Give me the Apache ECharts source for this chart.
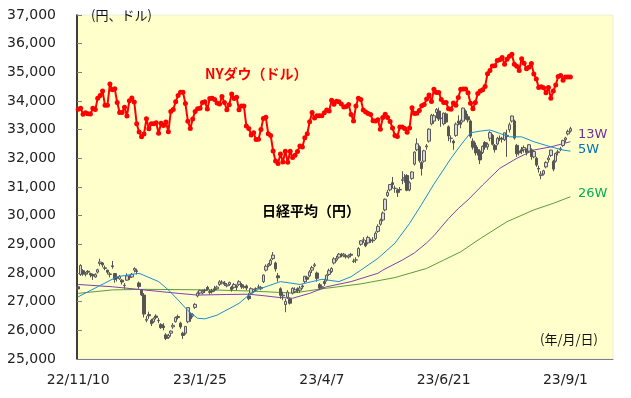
<!DOCTYPE html>
<html>
<head>
<meta charset="utf-8">
<script src="https://cdn.jsdelivr.net/npm/echarts@6/dist/echarts.min.js"></script>
<style>
  html, body { margin: 0; padding: 0; background: #fff; }
  #chart { width: 631px; height: 398px; }
</style>
</head>
<body>
<div id="chart"></div>
<script>
// x axis: Tokyo trading days, one tick every 50 sessions
const dayCount = 220
const tickStep = 50
const tickLabels = ['22/11/10', '23/1/25', '23/4/7', '23/6/21', '23/9/1']

// Nikkei 225 daily prices (yen)
const nkOpen = [
  27520, 27950, 28080, 27950, 28060, 27980, 27950, 27860, 28030, 28330,
  28350, 28180, 28100, 27950, 28250, 27980, 27840, 27800, 27750, 27560,
  27750, 27880, 27860, 28100, 28080, 27650, 27400, 27230, 26350, 26550,
  26350, 26300, 26500, 26350, 26200, 26150, 25840, 25750, 25900, 26120,
  26300, 26480, 26250, 25900, 25900, 26300, 26550, 26500, 26800, 27200,
  27300, 27300, 27400, 27500, 27350, 27380, 27450, 27450, 27600, 27650,
  27650, 27550, 27600, 27500, 27500, 27550, 27600, 27600, 27500, 27550,
  27200, 27300, 27350, 27450, 27500, 27450, 27700, 28100, 28250, 28300,
  28500, 28350, 27900, 27450, 27200, 26900, 27150, 27100, 27300, 27350,
  27450, 27400, 27550, 27700, 27850, 27900, 28100, 28250, 28000, 27600,
  27500, 27700, 27750, 27950, 28050, 28350, 28450, 28550, 28650, 28600,
  28600, 28550, 28650, 28400, 28450, 28600, 29000, 29150, 29050, 29050,
  29150, 29150, 29200, 29450, 29700, 29850, 30200, 30700, 30900, 31150,
  30950, 30900, 30900, 31250, 31300, 31400, 30900, 31300, 31800, 32300,
  32400, 31850, 31900, 32400, 32600, 33200, 33300, 33600, 33650, 33400,
  33200, 33550, 33100, 32700, 32600, 32800, 33300, 33250, 33300, 33650,
  33450, 33300, 32600, 32450, 32300, 32250, 32200, 32550, 32400, 32700,
  32800, 32450, 32500, 32700, 32700, 32650, 32800, 33000, 33300, 33300,
  32450, 32250, 32300, 32300, 32300, 32250, 32300, 32050, 32000, 31650,
  31400, 31450, 31700, 31950, 32100, 31900, 31900, 32200, 32300, 32450,
  32650, 32850, 32950
]
const nkClose = [
  27446, 28263, 27963, 27990, 28028, 27930, 27899, 27944, 28115, 28383,
  28283, 28162, 28027, 27968, 28226, 27777, 27820, 27885, 27686, 27574,
  27901, 27842, 27954, 28156, 28051, 27527, 27237, 26568, 26387, 26507,
  26235, 26405, 26447, 26340, 26093, 26094, 25716, 25820, 25973, 26175,
  26446, 26449, 26119, 25822, 26138, 26791, 26405, 26553, 26906, 27299,
  27395, 27362, 27382, 27433, 27327, 27346, 27402, 27509, 27693, 27685,
  27606, 27584, 27670, 27427, 27602, 27501, 27696, 27513, 27531, 27473,
  27104, 27453, 27423, 27445, 27516, 27498, 27927, 28237, 28309, 28444,
  28623, 28143, 27832, 27222, 27229, 27010, 27333, 26945, 27466, 27419,
  27385, 27476, 27518, 27883, 27782, 28041, 28188, 28287, 27813, 27472,
  27518, 27633, 27923, 28082, 28156, 28493, 28514, 28658, 28606, 28657,
  28564, 28593, 28620, 28416, 28457, 28856, 29123, 29157, 28949, 29242,
  29122, 29126, 29388, 29626, 29842, 30093, 30573, 30808, 31086, 31086,
  30957, 30801, 30916, 31233, 31328, 30887, 31148, 31524, 32217, 32506,
  31913, 31641, 32265, 32434, 33018, 33502, 33485, 33706, 33370, 33388,
  33575, 33264, 32781, 32698, 32538, 33193, 33234, 33189, 33753, 33422,
  33338, 32773, 32388, 32189, 32203, 31943, 32419, 32391, 32493, 32896,
  32490, 32304, 32700, 32682, 32668, 32891, 32759, 33172, 33476, 32707,
  32159, 32192, 32254, 32377, 32204, 32473, 32059, 32238, 31766, 31626,
  31450, 31565, 31856, 32010, 32287, 31624, 32169, 32226, 32333, 32619,
  32710, 32939, 33036
]
const nkLow = [
  27380, 27900, 27900, 27880, 27950, 27850, 27760, 27830, 27980, 28250,
  28200, 28100, 27950, 27850, 28150, 27660, 27700, 27760, 27600, 27450,
  27730, 27760, 27830, 28020, 27950, 27450, 27200, 26450, 26280, 26400,
  26150, 26250, 26380, 26250, 26050, 26000, 25660, 25700, 25780, 26050,
  26270, 26380, 26050, 25700, 25850, 26250, 26300, 26450, 26750, 27150,
  27250, 27250, 27300, 27380, 27250, 27280, 27350, 27400, 27550, 27600,
  27550, 27500, 27550, 27350, 27450, 27400, 27550, 27450, 27450, 27400,
  27050, 27250, 27300, 27350, 27450, 27400, 27650, 28050, 28200, 28250,
  28450, 28050, 27700, 27100, 27050, 26630, 27100, 26900, 27250, 27300,
  27300, 27300, 27450, 27650, 27700, 27850, 28000, 28200, 27700, 27400,
  27450, 27550, 27700, 27900, 28000, 28300, 28400, 28500, 28550, 28550,
  28500, 28500, 28550, 28350, 28350, 28550, 28950, 29050, 28900, 29000,
  29050, 29050, 29150, 29400, 29650, 29800, 30150, 30650, 30850, 30950,
  30800, 30650, 30800, 31100, 31150, 30850, 30850, 31250, 31750, 32250,
  31850, 31400, 31850, 32300, 32550, 33150, 33200, 33400, 33300, 33100,
  33150, 33200, 32600, 32550, 32300, 32750, 33150, 33050, 33250, 33350,
  33250, 32700, 32300, 32100, 32100, 31800, 32150, 32300, 32300, 32600,
  32450, 32200, 32450, 32600, 32550, 32600, 32050, 32900, 33250, 32650,
  32050, 32100, 32150, 32200, 32100, 32200, 31950, 32000, 31700, 31500,
  31270, 31400, 31650, 31850, 32050, 31550, 31850, 32100, 32250, 32400,
  32550, 32800, 32900
]
const nkHigh = [
  27560, 28305, 28130, 28040, 28100, 28010, 27980, 27990, 28150, 28500,
  28380, 28260, 28110, 28030, 28420, 28000, 27880, 27930, 27790, 27650,
  27990, 27920, 28000, 28200, 28150, 27700, 27430, 27300, 26500, 26650,
  26400, 26450, 26560, 26430, 26250, 26250, 25900, 25880, 26000, 26250,
  26480, 26550, 26300, 25950, 26150, 26810, 26600, 26600, 26950, 27350,
  27420, 27420, 27450, 27550, 27420, 27450, 27550, 27560, 27750, 27750,
  27720, 27650, 27700, 27550, 27650, 27600, 27750, 27650, 27600, 27600,
  27300, 27500, 27450, 27500, 27600, 27550, 27950, 28300, 28350, 28500,
  28730, 28400, 28000, 27500, 27350, 27100, 27400, 27150, 27500, 27500,
  27500, 27550, 27600, 27900, 27900, 28100, 28250, 28350, 28050, 27650,
  27600, 27800, 27950, 28150, 28200, 28550, 28600, 28700, 28700, 28700,
  28650, 28650, 28700, 28500, 28550, 28900, 29150, 29250, 29150, 29300,
  29200, 29250, 29450, 29700, 29900, 30150, 30600, 30900, 31100, 31350,
  31050, 30950, 31000, 31550, 31450, 31450, 31200, 31550, 32250, 32700,
  32450, 31900, 32300, 32500, 33050, 33550, 33550, 33750, 33770, 33500,
  33600, 33600, 33150, 32800, 32650, 33250, 33500, 33350, 33770, 33700,
  33550, 33350, 32700, 32550, 32400, 32300, 32450, 32600, 32550, 32950,
  32850, 32500, 32750, 32800, 32750, 32900, 33000, 33250, 33490, 33350,
  32500, 32400, 32400, 32450, 32350, 32500, 32350, 32300, 32050, 31750,
  31550, 31600, 31900, 32100, 32300, 31950, 32200, 32300, 32400, 32650,
  32750, 33000, 33100
]

// NY Dow close (dollars), aligned to the same sessions
const dow = [
  33715, 33748, 33537, 33593, 33553, 33547, 33746, 33700, 34098, 34194,
  34347, 33850, 33853, 34590, 34395, 34430, 33947, 33597, 33598, 33781,
  33477, 34006, 34108, 33966, 33203, 32920, 32757, 32850, 33377, 33028,
  33204, 33204, 33241, 32876, 33221, 33147, 33270, 32930, 33631, 33704,
  33974, 34190, 34303, 34303, 33911, 33297, 33045, 33376, 33630, 33734,
  33744, 33950, 33978, 33717, 34086, 34093, 34054, 33926, 33891, 34156,
  33950, 33699, 33869, 34246, 34089, 34128, 33697, 33827, 33827, 33129,
  33045, 32817, 32889, 32657, 32662, 33004, 33391, 33432, 32856, 32799,
  32255, 31910, 31820, 32155, 31875, 32247, 31862, 32245, 32030, 32105,
  32238, 32433, 32395, 32718, 32860, 33274, 33601, 33403, 33483, 33486,
  33486, 33587, 33685, 33647, 34030, 33887, 33988, 33977, 33897, 33787,
  33809, 33876, 33531, 33302, 33827, 34098, 34051, 33684, 33619, 33562,
  33531, 33309, 33301, 33349, 33012, 33421, 33536, 33427, 33287, 33056,
  32800, 32765, 33093, 33093, 33043, 32908, 33061, 33763, 33563, 33573,
  33665, 33834, 33877, 34067, 34212, 33979, 34408, 34299, 34299, 34054,
  33952, 33947, 33727, 33714, 33927, 33853, 34122, 34408, 34418, 34418,
  34288, 33922, 33734, 33944, 34262, 34347, 34395, 34509, 34952, 35061,
  35225, 35228, 35411, 35438, 35520, 35282, 35459, 35560, 35630, 35283,
  35216, 35066, 35474, 35315, 35124, 35177, 35308, 34946, 34766, 34475,
  34501, 34464, 34289, 34473, 34100, 34347, 34560, 34852, 34891, 34722,
  34838, 34838, 34838
]

// Nikkei moving averages, [session, yen]
const ma5w = [
  [0, 27170], [8, 27520], [16, 27870], [25, 27990], [33, 27700], [37, 27410],
  [41, 27060], [45, 26690], [49, 26420], [52, 26400], [57, 26530], [66, 26940],
  [70, 27230], [74, 27430], [83, 27700], [91, 27600], [100, 27780], [107, 27700],
  [112, 27870], [116, 28100], [123, 28510], [130, 29040], [136, 29730], [141, 30400],
  [146, 31100], [153, 32000], [157, 32460], [161, 32890], [165, 32950], [169, 32990],
  [173, 32870], [177, 32750], [182, 32750], [187, 32580], [194, 32400], [199, 32290],
  [202, 32250]
]
const ma13w = [
  [0, 27600], [14, 27520], [27, 27410], [41, 27290], [49, 27230], [61, 27250],
  [70, 27260], [77, 27200], [82, 27150], [88, 27120], [95, 27290], [102, 27520],
  [112, 27700], [123, 27990], [125, 28100], [133, 28450], [138, 28700], [143, 29050],
  [146, 29300], [152, 29900], [156, 30250], [160, 30550], [166, 31070], [173, 31650],
  [180, 32000], [187, 32290], [194, 32400], [202, 32580]
]
const ma26w = [
  [0, 27290], [14, 27410], [27, 27430], [55, 27410], [71, 27370], [88, 27300],
  [102, 27470], [116, 27620], [130, 27840], [143, 28160], [150, 28450], [157, 28740],
  [165, 29200], [176, 29790], [187, 30200], [195, 30430], [202, 30660]
]

const days = Array.from({ length: dayCount }, (_, i) => String(i))
const candles = nkClose.map((c, i) => [nkOpen[i], c, nkLow[i], nkHigh[i]])

const numFont = "'DejaVu Sans', Verdana, sans-serif"
const jpFont = "'Noto Sans CJK JP', sans-serif"

const chart = echarts.init(document.getElementById('chart'))

chart.setOption({
  animation: false,
  grid: {
    left: 77, right: 18, top: 15, bottom: 39,
    show: true,
    backgroundColor: '#FFFFCC',
    borderColor: '#E9EFD8',
    borderWidth: 1
  },
  xAxis: {
    type: 'category',
    data: days,
    boundaryGap: true,
    axisLine: { lineStyle: { color: '#808080', width: 1 } },
    axisTick: { interval: tickStep - 1, length: 5, lineStyle: { color: '#808080' } },
    axisLabel: {
      interval: tickStep - 1,
      margin: 14,
      fontFamily: numFont,
      fontSize: 14,
      color: '#222',
      formatter: (v, i) => (i % tickStep === 0 ? tickLabels[i / tickStep] : '')
    },
    splitLine: { show: false }
  },
  yAxis: {
    type: 'value',
    min: 25000,
    max: 37000,
    interval: 1000,
    axisLine: { show: true, lineStyle: { color: '#000', width: 1.5 } },
    axisTick: { show: true, inside: true, length: 5, lineStyle: { color: '#808080' } },
    axisLabel: {
      margin: 21,
      fontFamily: numFont,
      fontSize: 14,
      color: '#222',
      formatter: v => v.toLocaleString('en-US')
    },
    splitLine: { show: false }
  },
  series: [
    {
      name: '26W',
      type: 'line',
      data: ma26w,
      symbol: 'none',
      lineStyle: { color: '#5E9A3C', width: 1 },
      z: 2
    },
    {
      name: '13W',
      type: 'line',
      data: ma13w,
      symbol: 'none',
      lineStyle: { color: '#8040B0', width: 1 },
      z: 2
    },
    {
      name: '日経平均',
      type: 'candlestick',
      data: candles,
      barWidth: 3,
      itemStyle: {
        color: '#D9D9D9',
        color0: '#555555',
        borderColor: '#595959',
        borderColor0: '#555555',
        borderWidth: 1
      },
      z: 3
    },
    {
      name: '5W',
      type: 'line',
      data: ma5w,
      symbol: 'none',
      lineStyle: { color: '#1C8DD0', width: 1 },
      z: 4
    },
    {
      name: 'NYダウ',
      type: 'line',
      data: dow,
      symbol: 'circle',
      symbolSize: 5,
      showAllSymbol: true,
      itemStyle: { color: '#FF0000', borderWidth: 0 },
      lineStyle: { color: '#FF0000', width: 2 },
      z: 5
    }
  ],
  graphic: [
    { type: 'text', left: 91, top: 9,
      style: { text: '(円、ドル)', font: '13px ' + jpFont, fill: '#111' } },
    { type: 'text', left: 540, top: 333,
      style: { text: '(年/月/日)', font: '13px ' + jpFont, fill: '#111' } },
    { type: 'text', left: 205, top: 67,
      style: { text: 'NYダウ（ドル）', font: 'bold 14px ' + jpFont, fill: '#FF0000' } },
    { type: 'text', left: 262, top: 204,
      style: { text: '日経平均（円）', font: 'bold 14px ' + jpFont, fill: '#000' } },
    { type: 'text', left: 578, top: 128,
      style: { text: '13W', font: '13px ' + numFont, fill: '#7030A0' } },
    { type: 'text', left: 578, top: 143,
      style: { text: '5W', font: '13px ' + numFont, fill: '#0070C0' } },
    { type: 'text', left: 578, top: 187,
      style: { text: '26W', font: '13px ' + numFont, fill: '#00B050' } }
  ]
})
</script>
</body>
</html>
